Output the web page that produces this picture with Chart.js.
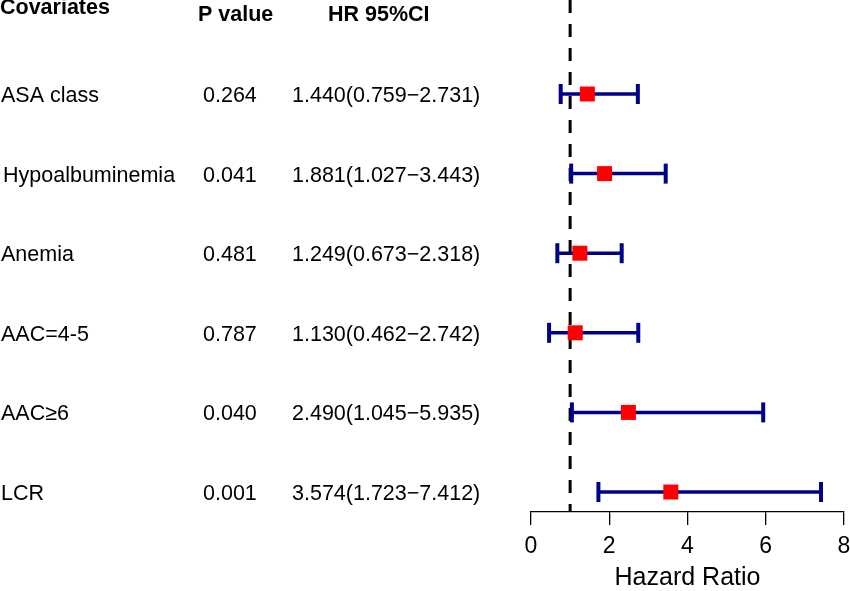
<!DOCTYPE html>
<html>
<head>
<meta charset="utf-8">
<script src="https://cdn.jsdelivr.net/npm/chart.js@4/dist/chart.umd.min.js"></script>
<style>
  html, body { margin: 0; padding: 0; background: #fff; }
  #c { display: block; }
</style>
</head>
<body>
<canvas id="c" width="850" height="591"></canvas>
<script>
// ---- data ----
const covariates = ["ASA class", "Hypoalbuminemia", "Anemia", "AAC=4-5", "AAC\u22656", "LCR"];
const pValues = ["0.264", "0.041", "0.481", "0.787", "0.040", "0.001"];
const hazardRatios = [1.440, 1.881, 1.249, 1.130, 2.490, 3.574];
const ciLower = [0.759, 1.027, 0.673, 0.462, 1.045, 1.723];
const ciUpper = [2.731, 3.443, 2.318, 2.742, 5.935, 7.412];
const xTicks = [0, 2, 4, 6, 8];
const referenceHR = 1;
const headers = ["Covariates", "P value", "HR 95%CI"];

const NAVY = "#00008B";
const FONT = "'Liberation Sans', Arial, Helvetica, sans-serif";
const rows = covariates.map((_, i) => i + 1);

const datasets = [];
// squares (drawn on top: dataset 0)
datasets.push({
  type: 'scatter',
  data: hazardRatios.map((v, i) => ({ x: v, y: rows[i] })),
  pointStyle: 'rect',
  pointRadius: 10.6,
  pointBackgroundColor: '#FF0000',
  pointBorderWidth: 0,
  pointBorderColor: '#FF0000'
});
// confidence intervals with caps
covariates.forEach((_, i) => {
  datasets.push({
    type: 'line',
    data: [{ x: ciLower[i], y: rows[i] }, { x: ciUpper[i], y: rows[i] }],
    borderColor: NAVY,
    borderWidth: 3.5,
    pointStyle: 'line',
    pointRotation: 90,
    pointRadius: 10,
    pointBorderColor: NAVY,
    pointBorderWidth: 4,
    fill: false
  });
});
// reference dashed line
datasets.push({
  type: 'line',
  data: [{ x: referenceHR, y: -0.181 }, { x: referenceHR, y: 6.251 }],
  borderColor: '#000',
  borderWidth: 3,
  borderDash: [13, 11],
  pointRadius: 0,
  fill: false
});

const textPlugin = {
  id: 'forestText',
  afterDraw(chart) {
    const ctx = chart.ctx;
    const y = chart.scales.y;
    ctx.save();
    ctx.fillStyle = '#000';
    ctx.textBaseline = 'alphabetic';
    ctx.textAlign = 'left';
    ctx.font = "bold 21.5px " + FONT;
    ctx.fillText(headers[0], 0, 14);
    ctx.fillText(headers[1], 198, 21);
    ctx.fillText(headers[2], 328, 21);
    ctx.font = "21.5px " + FONT;
    covariates.forEach((name, i) => {
      const py = y.getPixelForValue(rows[i]) + 8;
      ctx.fillText(name, i === 1 ? 3 : 1, py);
      ctx.fillText(pValues[i], 203, py);
      const txt = hazardRatios[i].toFixed(3) + "(" + ciLower[i].toFixed(3) + "\u2212" + ciUpper[i].toFixed(3) + ")";
      ctx.fillText(txt, 292, py);
    });
    ctx.restore();
  }
};

new Chart(document.getElementById('c'), {
  type: 'scatter',
  data: { datasets },
  options: {
    responsive: false,
    animation: false,
    devicePixelRatio: 1,
    layout: { autoPadding: false, padding: { left: 531, right: 6, top: 0, bottom: 0 } },
    plugins: { legend: { display: false }, tooltip: { enabled: false } },
    scales: {
      x: {
        type: 'linear',
        min: 0, max: 8,
        afterBuildTicks(scale) { scale.ticks = xTicks.map(v => ({ value: v })); },
        afterFit(scale) { scale.height = 79; scale.paddingLeft = 0; scale.paddingRight = 0; },
        ticks: { color: '#000', font: { family: FONT, size: 23 }, padding: 8, maxRotation: 0 },
        grid: { drawOnChartArea: false, drawTicks: true, tickLength: 13, color: '#000', lineWidth: 1.3 },
        border: { display: true, color: '#000', width: 1.3 },
        title: { display: true, text: 'Hazard Ratio', color: '#000', font: { family: FONT, size: 25, lineHeight: 1 }, padding: { top: 0, bottom: 0 } }
      },
      y: {
        type: 'linear',
        display: false,
        reverse: true,
        min: -0.181, max: 6.251
      }
    }
  },
  plugins: [textPlugin]
});
</script>
</body>
</html>
